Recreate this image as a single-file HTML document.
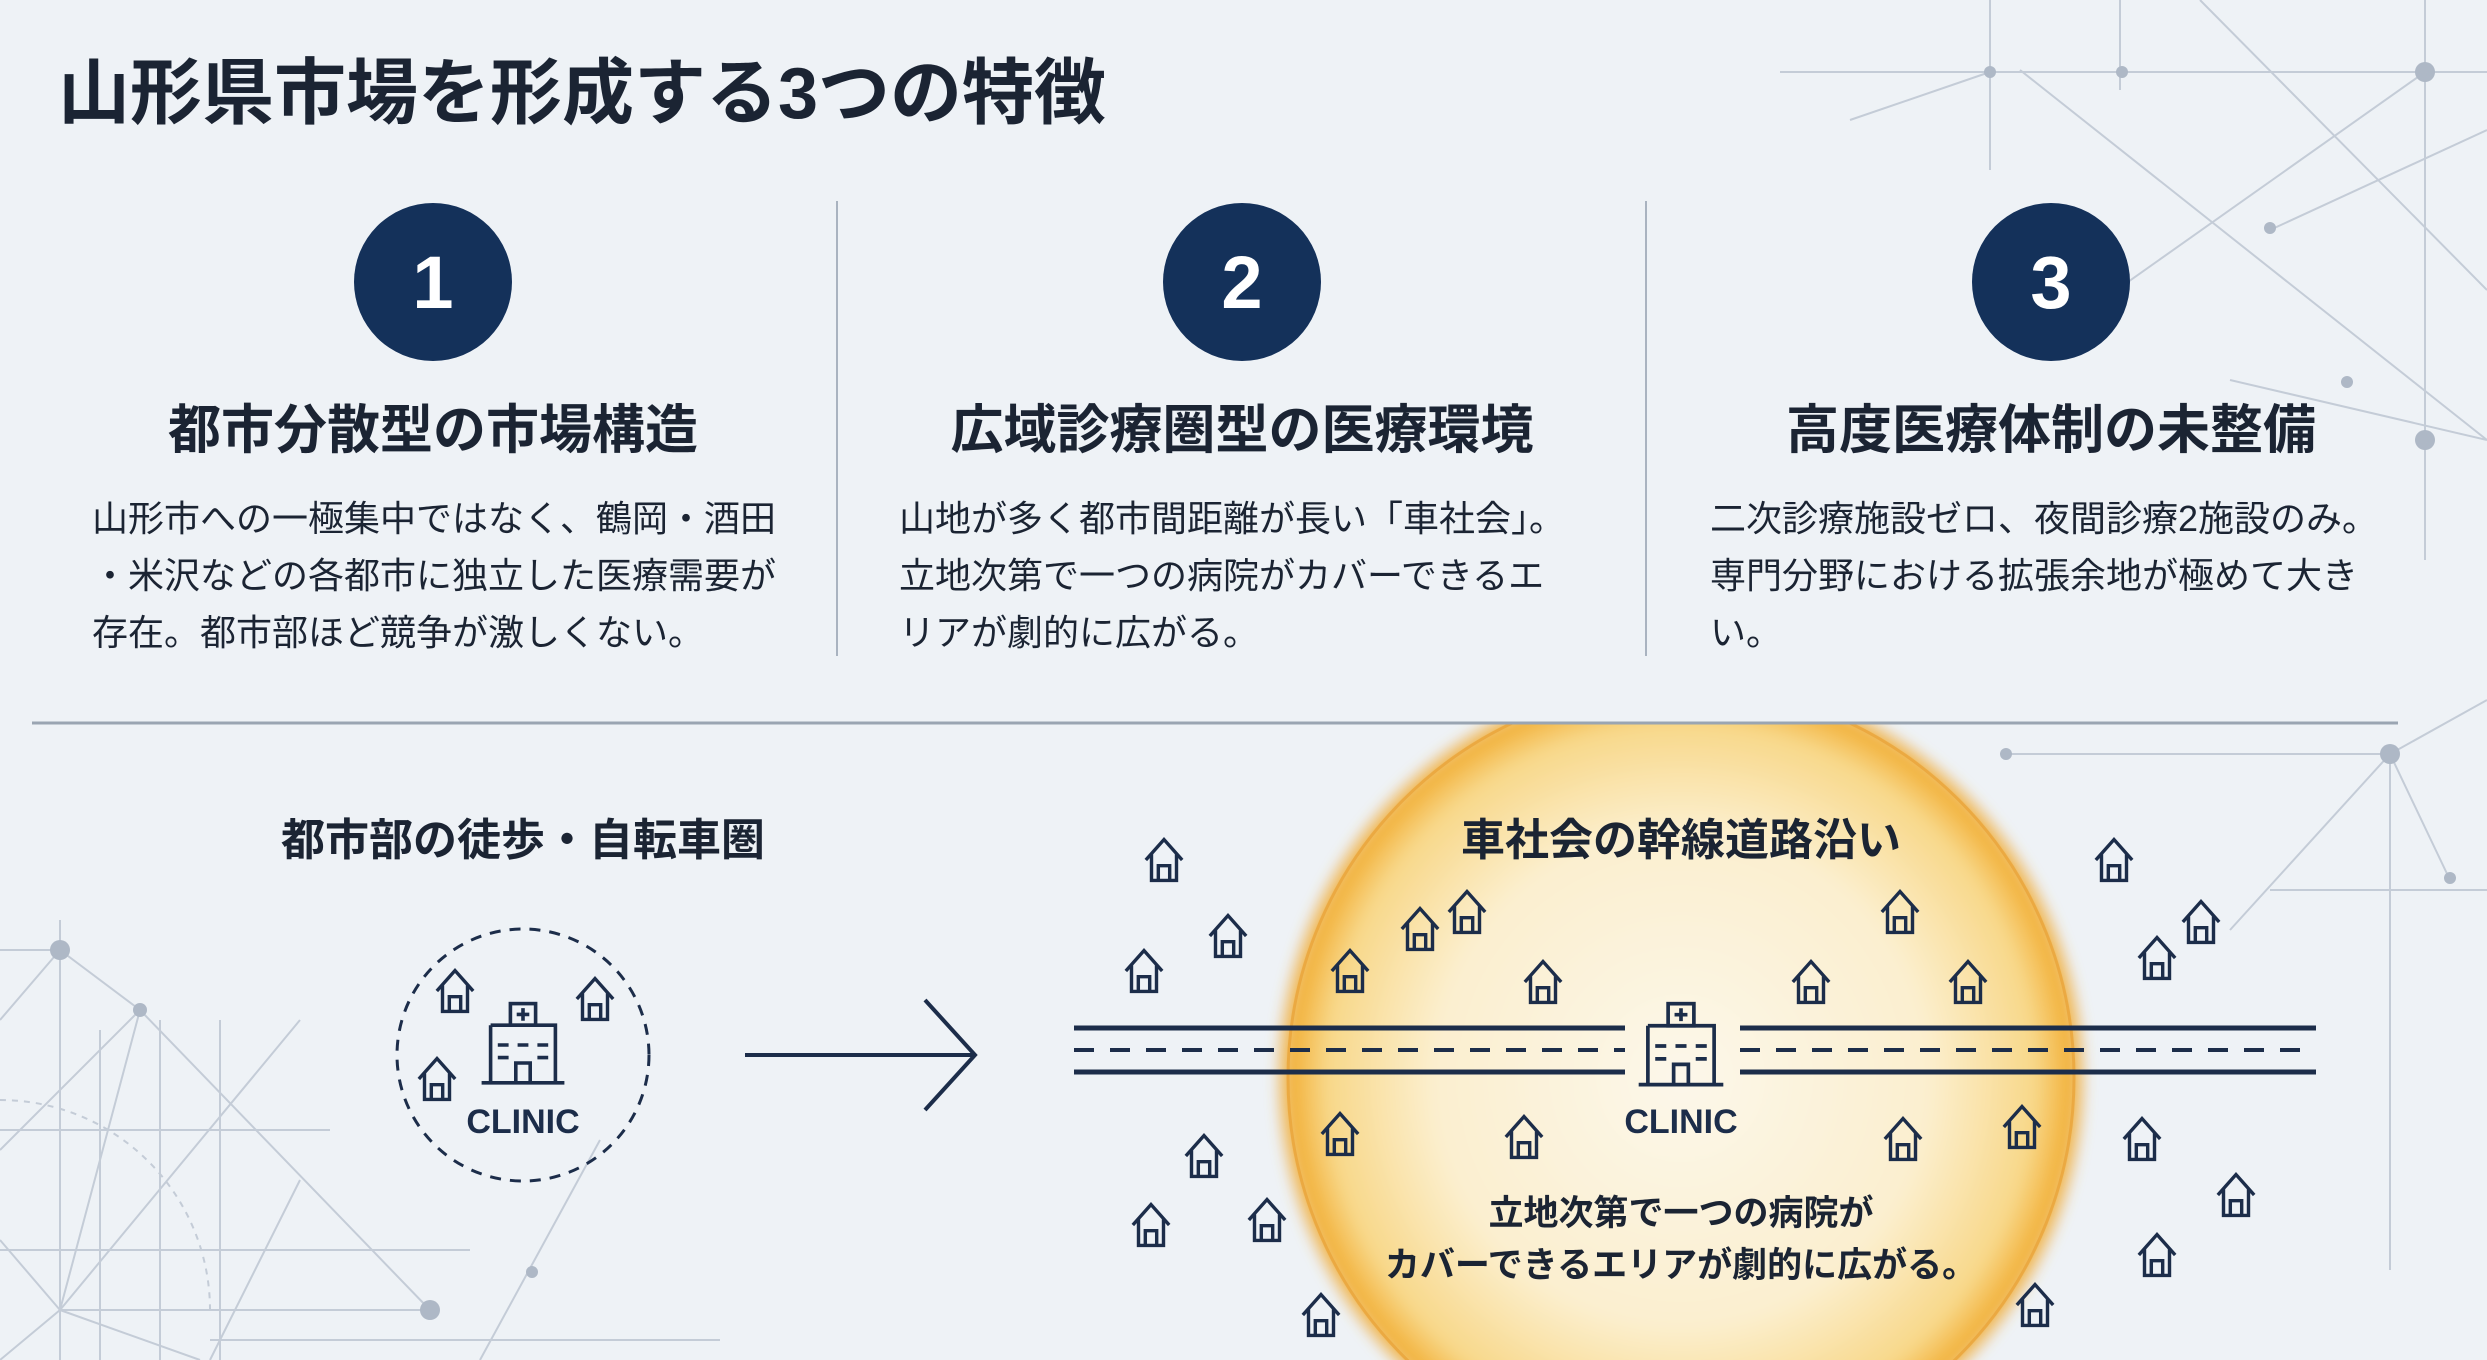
<!DOCTYPE html>
<html><head><meta charset="utf-8"><style>
html,body{margin:0;padding:0;background:#eef2f6;width:2487px;height:1360px;overflow:hidden;}
svg{display:block;}
text{font-family:"Liberation Sans","Noto Sans CJK JP",sans-serif;fill:#1b2433;}
</style></head><body>
<svg width="2487" height="1360" viewBox="0 0 2487 1360" xmlns="http://www.w3.org/2000/svg">
<defs>
<symbol id="h" viewBox="0 0 40 44">
<path d="M4 22 L20 4 L36 22 M9 17 V40 H31 V17 M15 40 V27 H25 V40" fill="none" stroke="#1c2d4a" stroke-width="3" stroke-linejoin="miter"/>
</symbol>
<symbol id="cl" viewBox="0 0 100 100">
<g fill="none" stroke="#1c2d4a" stroke-width="4">
<rect x="36" y="4" width="28" height="24"/>
<path d="M50 9 V23 M43 16 H57"/>
<path d="M14 28 H86 V92 M14 28 V92"/>
<path d="M4 92 H96"/>
<path d="M22 50 H34 M44 50 H56 M66 50 H78 M22 64 H34 M66 64 H78"/>
<path d="M42 92 V70 H58 V92"/>
</g>
</symbol>
<radialGradient id="g" cx="0.5" cy="0.5" r="0.5">
<stop offset="0" stop-color="#fcf7ea"/>
<stop offset="0.6" stop-color="#fbefcf"/>
<stop offset="0.86" stop-color="#f8d88a"/>
<stop offset="0.95" stop-color="#f2b23c"/>
<stop offset="1" stop-color="#eda53a" stop-opacity="0"/>
</radialGradient>
<filter id="b"><feGaussianBlur stdDeviation="5"/></filter>
<clipPath id="cp"><rect x="0" y="724" width="2487" height="636"/></clipPath>
</defs>

<g stroke="#c4ccd7" stroke-width="2" fill="none">
<path d="M1780 72 H2487 M1990 0 V170 M2425 0 V560 M2200 0 L2487 290 M2020 70 L2487 440 M2425 72 L2060 330 M2270 230 L2487 130 M2230 380 L2487 440 M1850 120 L1990 72 M2120 0 V90"/>
<circle cx="2425" cy="72" r="10" fill="#aeb8c6" stroke="none"/>
<circle cx="1990" cy="72" r="6" fill="#aeb8c6" stroke="none"/>
<circle cx="2122" cy="72" r="6" fill="#aeb8c6" stroke="none"/>
<circle cx="2425" cy="440" r="10" fill="#aeb8c6" stroke="none"/>
<circle cx="2270" cy="228" r="6" fill="#aeb8c6" stroke="none"/>
<circle cx="2347" cy="382" r="6" fill="#aeb8c6" stroke="none"/>
</g>
<g stroke="#c4ccd7" stroke-width="2" fill="none">
<path d="M2005 754 H2390 M2390 754 V1270 M2390 754 L2230 930 M2390 754 L2450 880 M2390 754 L2487 700 M2270 890 H2487"/>
<circle cx="2390" cy="754" r="10" fill="#aeb8c6" stroke="none"/>
<circle cx="2006" cy="754" r="6" fill="#aeb8c6" stroke="none"/>
<circle cx="2450" cy="878" r="6" fill="#aeb8c6" stroke="none"/>
</g>
<g stroke="#c4ccd7" stroke-width="2" fill="none">
<path d="M60 920 V1360 M0 950 L60 950 L140 1010 L430 1310 M140 1010 L0 1150 M60 950 L0 1020 M60 1310 H430 M60 1310 L140 1010 M60 1310 L300 1020 M0 1130 H330 M0 1250 H470 M100 1030 V1360 M160 1020 V1360 M220 1020 V1360 M210 1340 H720 M300 1180 L210 1360 M600 1140 L480 1360 M60 1310 L0 1240 M60 1310 L0 1360 M60 1310 L200 1360"/>
<path d="M0 1100 A 210 210 0 0 1 210 1310" stroke-dasharray="6 6"/>
<circle cx="60" cy="950" r="10" fill="#aeb8c6" stroke="none"/>
<circle cx="140" cy="1010" r="7" fill="#aeb8c6" stroke="none"/>
<circle cx="430" cy="1310" r="10" fill="#aeb8c6" stroke="none"/>
<circle cx="532" cy="1272" r="6" fill="#aeb8c6" stroke="none"/>
</g>

<text x="58" y="118" font-size="72" font-weight="700">山形県市場を形成する3つの特徴</text>

<g stroke="#a9b3c0" stroke-width="2">
<path d="M837 201 V656 M1646 201 V656"/>
</g>

<g fill="#14315a">
<circle cx="433" cy="282" r="79"/>
<circle cx="1242" cy="282" r="79"/>
<circle cx="2051" cy="282" r="79"/>
</g>
<g font-size="74" font-weight="700" text-anchor="middle">
<text x="433" y="308" style="fill:#fff">1</text>
<text x="1242" y="308" style="fill:#fff">2</text>
<text x="2051" y="308" style="fill:#fff">3</text>
</g>
<g font-size="53" font-weight="700" text-anchor="middle">
<text x="433" y="448">都市分散型の市場構造</text>
<text x="1242" y="448">広域診療圏型の医療環境</text>
<text x="2051" y="448">高度医療体制の未整備</text>
</g>
<g font-size="36" style="fill:#222a36">
<text x="92" y="531">山形市への一極集中ではなく、鶴岡・酒田</text>
<text x="92" y="588">・米沢などの各都市に独立した医療需要が</text>
<text x="92" y="645">存在。都市部ほど競争が激しくない。</text>
<text x="899" y="531">山地が多く都市間距離が長い「車社会」。</text>
<text x="899" y="588">立地次第で一つの病院がカバーできるエ</text>
<text x="899" y="645">リアが劇的に広がる。</text>
<text x="1710" y="531">二次診療施設ゼロ、夜間診療2施設のみ。</text>
<text x="1710" y="588">専門分野における拡張余地が極めて大き</text>
<text x="1710" y="645">い。</text>
</g>

<g clip-path="url(#cp)">
<circle cx="1681" cy="1078" r="410" fill="url(#g)" filter="url(#b)"/>
<circle cx="1681" cy="1078" r="393" fill="none" stroke="#eaa43a" stroke-width="3" opacity="0.8"/>
</g>

<path d="M32 723 H2398" stroke="#9aa5b2" stroke-width="3"/>

<text x="523" y="855" font-size="44" font-weight="700" text-anchor="middle">都市部の徒歩・自転車圏</text>
<circle cx="523" cy="1055" r="126" fill="none" stroke="#1c2d4a" stroke-width="3" stroke-dasharray="11 9"/>
<use href="#cl" x="475" y="1000" width="96" height="90"/>
<text x="523" y="1133" font-size="34" font-weight="700" text-anchor="middle" style="fill:#1c2d4a">CLINIC</text>
<use href="#h" x="432" y="966" width="46" height="50"/>
<use href="#h" x="572" y="974" width="46" height="50"/>
<use href="#h" x="414" y="1054" width="46" height="50"/>

<g stroke="#1c2d4a" stroke-width="4" fill="none">
<path d="M745 1055 H975 M925 1000 L975 1055 L925 1110"/>
</g>

<g stroke="#1c2d4a" stroke-width="5" fill="none">
<path d="M1074 1028 H1625 M1740 1028 H2316 M1074 1072 H1625 M1740 1072 H2316"/>
<path d="M1074 1050 H1625 M1740 1050 H2316" stroke-width="4" stroke-dasharray="20 16"/>
</g>
<use href="#cl" x="1632" y="1000" width="98" height="92"/>
<text x="1681" y="1133" font-size="34" font-weight="700" text-anchor="middle" style="fill:#1c2d4a">CLINIC</text>

<text x="1681" y="855" font-size="44" font-weight="700" text-anchor="middle">車社会の幹線道路沿い</text>
<g font-size="35" font-weight="700" text-anchor="middle">
<text x="1681" y="1225">立地次第で一つの病院が</text>
<text x="1681" y="1277">カバーできるエリアが劇的に広がる。</text>
</g>

<g transform="translate(-3,-3)">
<use href="#h" x="1144" y="838" width="46" height="50"/>
<use href="#h" x="1208" y="914" width="46" height="50"/>
<use href="#h" x="1124" y="949" width="46" height="50"/>
<use href="#h" x="1330" y="949" width="46" height="50"/>
<use href="#h" x="1400" y="907" width="46" height="50"/>
<use href="#h" x="1447" y="890" width="46" height="50"/>
<use href="#h" x="1523" y="960" width="46" height="50"/>
<use href="#h" x="1880" y="890" width="46" height="50"/>
<use href="#h" x="1791" y="960" width="46" height="50"/>
<use href="#h" x="1948" y="960" width="46" height="50"/>
<use href="#h" x="2094" y="838" width="46" height="50"/>
<use href="#h" x="2181" y="900" width="46" height="50"/>
<use href="#h" x="2137" y="936" width="46" height="50"/>
<use href="#h" x="1184" y="1134" width="46" height="50"/>
<use href="#h" x="1320" y="1112" width="46" height="50"/>
<use href="#h" x="1504" y="1115" width="46" height="50"/>
<use href="#h" x="1883" y="1117" width="46" height="50"/>
<use href="#h" x="2002" y="1105" width="46" height="50"/>
<use href="#h" x="2122" y="1117" width="46" height="50"/>
<use href="#h" x="2216" y="1173" width="46" height="50"/>
<use href="#h" x="2137" y="1233" width="46" height="50"/>
<use href="#h" x="1131" y="1203" width="46" height="50"/>
<use href="#h" x="1247" y="1198" width="46" height="50"/>
<use href="#h" x="1301" y="1293" width="46" height="50"/>
<use href="#h" x="2015" y="1283" width="46" height="50"/>
</g>
</svg>
</body></html>
